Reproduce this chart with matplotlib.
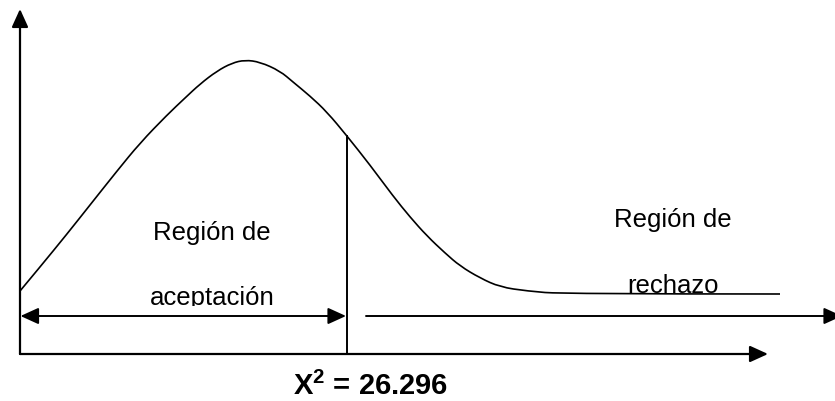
import numpy as np
import matplotlib
matplotlib.use("Agg")
import matplotlib.pyplot as plt
from matplotlib.patches import Rectangle, PathPatch
from matplotlib.path import Path

# curva de densidad chi-cuadrado (origen en el cruce de los ejes)
curva_x = [0, 20, 47, 70, 97, 120, 147, 165, 180, 197, 212, 225, 240, 260, 273,
           290, 307, 327, 350, 373, 390, 407, 425, 440, 460, 480, 507, 543, 760]
curva_y = [63, 87, 120, 149, 183, 211, 239, 256, 270, 283, 291, 294, 292, 283, 272,
           258, 242, 218, 189, 158, 137, 118, 101, 88, 76, 67, 63, 60, 60]

x_critico = 327
valor_critico = "26.296"

etiqueta_acept = ["Región de", "aceptación"]
etiqueta_rech = ["Región de", "rechazo"]

plt.rcParams['font.family'] = ['Liberation Sans', 'DejaVu Sans']
plt.rcParams['mathtext.fontset'] = 'custom'
plt.rcParams['mathtext.rm'] = 'Liberation Sans'
plt.rcParams['mathtext.bf'] = 'Liberation Sans:bold'

fig = plt.figure(figsize=(8.35, 4.02), dpi=100)
ax = fig.add_axes([0, 0, 1, 1])
ax.set_xlim(-20, 815)
ax.set_ylim(-47, 355)
ax.axis('off')

negro = 'black'
flecha = 'head_length=1.1,head_width=0.5'

# ejes con flechas
ax.annotate('', xy=(0, 345), xytext=(0, 0), annotation_clip=False,
            arrowprops=dict(arrowstyle='-|>,' + flecha, mutation_scale=10,
                            lw=1.6, color=negro, shrinkA=0, shrinkB=0))
ax.annotate('', xy=(748, 0), xytext=(0, 0), annotation_clip=False,
            arrowprops=dict(arrowstyle='-|>,' + flecha, mutation_scale=10,
                            lw=1.6, color=negro, shrinkA=0, shrinkB=0))

# curva suavizada (bezier cuadratica por los puntos medios)
pts = np.column_stack([curva_x, curva_y]).astype(float)
verts = [pts[0]]
codes = [Path.MOVETO]
for i in range(1, len(pts) - 1):
    mid = (pts[i] + pts[i + 1]) / 2
    if i == len(pts) - 2:
        mid = pts[i + 1]
    verts += [pts[i], mid]
    codes += [Path.CURVE3, Path.CURVE3]
ax.add_patch(PathPatch(Path(verts, codes), facecolor='none', edgecolor=negro,
                       lw=1.2, zorder=5))

# linea del valor critico
y_corte = np.interp(x_critico, curva_x, curva_y)
ax.plot([x_critico, x_critico], [0, y_corte], color=negro, lw=1.4)

# flecha doble region de aceptacion
ax.annotate('', xy=(x_critico - 1, 38), xytext=(0.5, 38), annotation_clip=False,
            arrowprops=dict(arrowstyle='<|-|>,' + flecha, mutation_scale=10,
                            lw=1.4, color=negro, shrinkA=0, shrinkB=0), zorder=6)
# flecha region de rechazo
ax.annotate('', xy=(822, 38), xytext=(346, 38), annotation_clip=False,
            arrowprops=dict(arrowstyle='-|>,' + flecha, mutation_scale=10,
                            lw=1.4, color=negro, shrinkA=0, shrinkB=0), zorder=6)

# textos
ax.text(192, 115, etiqueta_acept[0], ha='center', va='baseline', fontsize=18.5, zorder=3)
ax.text(192, 50, etiqueta_acept[1], ha='center', va='baseline', fontsize=18.5, zorder=3)
ax.add_patch(Rectangle((120, 39.5), 160, 8.5, facecolor='white', edgecolor='none', zorder=4))

ax.text(653, 128, etiqueta_rech[0], ha='center', va='baseline', fontsize=18.5, zorder=3)
ax.text(653, 62, etiqueta_rech[1], ha='center', va='baseline', fontsize=18.5, zorder=3)

ax.text(351, -40, r"$\mathbf{X^{2}}$ = " + valor_critico, ha='center', va='baseline',
        fontsize=21, fontweight='bold')

fig.savefig('out.png', dpi=100)
